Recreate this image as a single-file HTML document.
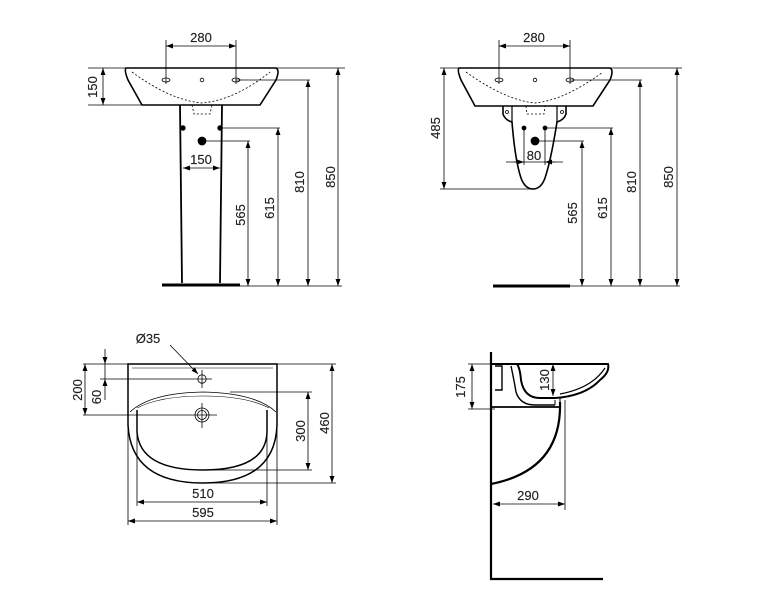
<!DOCTYPE html>
<html><head><meta charset="utf-8"><style>
html,body{margin:0;padding:0;background:#fff;}
svg{display:block;}
text{font-family:"Liberation Sans",Arial,sans-serif;font-size:13px;fill:#222;stroke:#222;stroke-width:0.15;}
</style></head><body>
<svg width="759" height="600" viewBox="0 0 759 600" xmlns="http://www.w3.org/2000/svg">
<defs>
<marker id="a" viewBox="0 0 10 10" refX="10" refY="5" markerWidth="7" markerHeight="7" orient="auto-start-reverse" markerUnits="userSpaceOnUse"><path d="M0,1.5 L10,5 L0,8.5 z" fill="#000"/></marker>
</defs>
<g stroke="#000" fill="none" stroke-width="0.8">
<!-- ===== VIEW 1 ===== -->
<path d="M126,68 L276,68 Q280,70 276,80 L260,105 L142,105 L128,80 Q124,70 126,68 Z" stroke-width="1.6"/>
<path d="M132,72 Q170,100 202,103 Q235,100 270,72" stroke-dasharray="2,2"/>
<path d="M192,105 L194,114 L210,114 L212,105" stroke-dasharray="2,2"/>
<path d="M180,105 L182,283 M222,105 L220,283" stroke-width="1.8"/>
<line x1="162" y1="285" x2="240" y2="285" stroke-width="3"/>
<circle cx="202" cy="80" r="1.8"/>
<ellipse cx="166" cy="80" rx="4" ry="2"/><ellipse cx="236" cy="80" rx="4" ry="2"/>
<circle cx="183" cy="128" r="2.3" fill="#000"/><circle cx="220" cy="128" r="2.3" fill="#000"/>
<circle cx="202" cy="141" r="4" fill="#000"/>
<line x1="166" y1="40" x2="166" y2="84"/><line x1="236" y1="40" x2="236" y2="84"/>
<line x1="166" y1="46" x2="236" y2="46" marker-start="url(#a)" marker-end="url(#a)"/>
<line x1="183" y1="168" x2="220" y2="168" marker-start="url(#a)" marker-end="url(#a)"/>
<line x1="88" y1="68" x2="345" y2="68"/><line x1="88" y1="105" x2="142" y2="105"/>
<line x1="103" y1="68" x2="103" y2="105" marker-start="url(#a)" marker-end="url(#a)"/>
<line x1="236" y1="80" x2="310" y2="80"/><line x1="220" y1="128" x2="280" y2="128"/><line x1="202" y1="141" x2="250" y2="141"/>
<line x1="240" y1="286" x2="342" y2="286"/>
<line x1="248" y1="141" x2="248" y2="286" marker-start="url(#a)" marker-end="url(#a)"/>
<line x1="278" y1="128" x2="278" y2="286" marker-start="url(#a)" marker-end="url(#a)"/>
<line x1="308" y1="80" x2="308" y2="286" marker-start="url(#a)" marker-end="url(#a)"/>
<line x1="338" y1="68" x2="338" y2="286" marker-start="url(#a)" marker-end="url(#a)"/>

<!-- ===== VIEW 2 ===== -->
<path d="M459,68 L610,68 Q614,70 610,80 L593,106 L475,106 L461,80 Q457,70 459,68 Z" stroke-width="1.6"/>
<path d="M466,72 Q505,100 535,103 Q565,100 603,72" stroke-dasharray="2,2"/>
<path d="M526,106 L527,114 L544,114 L545,106" stroke-dasharray="2,2"/>
<path d="M503,106 L503,114 Q505,120 512,122 Q515,160 521,178 Q525,189 533,189 Q541,189 545,178 Q551,160 557,122 Q564,120 566,114 L566,106" stroke-width="1.6"/>
<line x1="512" y1="106" x2="512" y2="122" stroke-width="1.2"/><line x1="557" y1="106" x2="557" y2="122" stroke-width="1.2"/>
<circle cx="507" cy="112" r="1.5"/><circle cx="562" cy="112" r="1.5"/>
<line x1="493" y1="286" x2="570" y2="286" stroke-width="3"/>
<circle cx="535" cy="80" r="1.8"/>
<ellipse cx="499" cy="80" rx="4" ry="2"/><ellipse cx="570" cy="80" rx="4" ry="2"/>
<circle cx="524" cy="128" r="2" fill="#000"/><circle cx="545" cy="128" r="2" fill="#000"/>
<circle cx="535" cy="141" r="4" fill="#000"/>
<line x1="499" y1="40" x2="499" y2="84"/><line x1="570" y1="40" x2="570" y2="84"/>
<line x1="499" y1="46" x2="570" y2="46" marker-start="url(#a)" marker-end="url(#a)"/>
<line x1="524" y1="128" x2="524" y2="165"/><line x1="545" y1="128" x2="545" y2="165"/>
<line x1="506" y1="162" x2="563" y2="162"/>
<line x1="514" y1="162" x2="524" y2="162" marker-end="url(#a)"/><line x1="555" y1="162" x2="545" y2="162" marker-end="url(#a)"/>
<line x1="440" y1="68" x2="682" y2="68"/><line x1="440" y1="189" x2="533" y2="189"/>
<line x1="444" y1="68" x2="444" y2="189" marker-start="url(#a)" marker-end="url(#a)"/>
<line x1="570" y1="80" x2="642" y2="80"/><line x1="545" y1="128" x2="613" y2="128"/><line x1="535" y1="141" x2="584" y2="141"/>
<line x1="570" y1="286" x2="680" y2="286"/>
<line x1="582" y1="141" x2="582" y2="286" marker-start="url(#a)" marker-end="url(#a)"/>
<line x1="611" y1="128" x2="611" y2="286" marker-start="url(#a)" marker-end="url(#a)"/>
<line x1="640" y1="80" x2="640" y2="286" marker-start="url(#a)" marker-end="url(#a)"/>
<line x1="677" y1="68" x2="677" y2="286" marker-start="url(#a)" marker-end="url(#a)"/>

<!-- ===== VIEW 3 ===== -->
<path d="M128,364 L277,364 L277,425 Q275,483 203,483 Q131,483 128,425 Z" stroke-width="1.5"/>
<line x1="132" y1="368" x2="273" y2="368" stroke-width="0.5"/>
<path d="M130,412 Q150,393 203,392 Q256,393 276,412"/>
<path d="M137,408 Q160,396 203,396 Q246,396 269,408" stroke-width="0.6"/>
<path d="M137,410 L137,432 Q140,470 203,470 Q266,470 267,432 L267,410" stroke-width="1.5"/>
<circle cx="202" cy="379" r="4.2"/>
<circle cx="202" cy="415" r="7"/><circle cx="202" cy="415" r="4.5"/>
<line x1="202" y1="370" x2="202" y2="388"/><line x1="202" y1="403" x2="202" y2="428"/>
<line x1="100" y1="379" x2="212" y2="379"/><line x1="83" y1="415" x2="217" y2="415"/>
<line x1="83" y1="364" x2="128" y2="364"/>
<line x1="170" y1="345" x2="198" y2="374" marker-end="url(#a)"/>
<line x1="85" y1="364" x2="85" y2="415" marker-start="url(#a)" marker-end="url(#a)"/>
<line x1="105" y1="349" x2="105" y2="364" marker-end="url(#a)"/>
<line x1="105" y1="400" x2="105" y2="379" marker-end="url(#a)"/>
<line x1="105" y1="364" x2="105" y2="379"/>
<line x1="277" y1="364" x2="336" y2="364"/><line x1="203" y1="483" x2="336" y2="483"/>
<line x1="230" y1="392" x2="312" y2="392"/><line x1="203" y1="470" x2="312" y2="470"/>
<line x1="308" y1="392" x2="308" y2="470" marker-start="url(#a)" marker-end="url(#a)"/>
<line x1="332" y1="364" x2="332" y2="483" marker-start="url(#a)" marker-end="url(#a)"/>
<line x1="137" y1="430" x2="137" y2="506"/><line x1="267" y1="430" x2="267" y2="506"/>
<line x1="128" y1="420" x2="128" y2="525"/><line x1="277" y1="420" x2="277" y2="525"/>
<line x1="137" y1="502" x2="267" y2="502" marker-start="url(#a)" marker-end="url(#a)"/>
<line x1="128" y1="521" x2="277" y2="521" marker-start="url(#a)" marker-end="url(#a)"/>

<!-- ===== VIEW 4 ===== -->
<path d="M491,352 L491,579 L603,579" stroke-width="2.2"/>
<path d="M491,364 L608,364 Q610,372 600,380 Q585,396 555,398 L540,398" stroke-width="2"/>
<path d="M605,368 Q592,388 560,394" stroke-width="1.2"/>
<path d="M517,364 Q520,368 521,380 Q524,398 540,398" stroke-width="2"/>
<path d="M511,366 Q514,380 516,392 Q520,405 535,405 L555,405" stroke-width="1.4"/>
<path d="M495,366 L502,366 L502,390 L495,390" stroke-width="1.4"/>
<line x1="491" y1="407" x2="560" y2="407" stroke-width="1.8"/>
<path d="M560,398 L560,405 M555,400 L555,405" stroke-width="1"/>
<path d="M560,402 Q562,470 491,484" stroke-width="2.2"/>
<path d="M565,400 L565,510" />
<line x1="468" y1="364" x2="495" y2="364"/><line x1="468" y1="409" x2="495" y2="409"/>
<line x1="472" y1="364" x2="472" y2="409" marker-start="url(#a)" marker-end="url(#a)"/>
<line x1="553" y1="364" x2="553" y2="396" marker-start="url(#a)" marker-end="url(#a)"/>
<line x1="493" y1="504" x2="565" y2="504" marker-start="url(#a)" marker-end="url(#a)"/>
</g>
<g>
<text x="201" y="42" text-anchor="middle">280</text>
<text x="534" y="42" text-anchor="middle">280</text>
<text x="201" y="164" text-anchor="middle">150</text>
<text x="534" y="160" text-anchor="middle">80</text>
<text transform="translate(97,87) rotate(-90)" text-anchor="middle">150</text>
<text transform="translate(245,215) rotate(-90)" text-anchor="middle">565</text>
<text transform="translate(274,208) rotate(-90)" text-anchor="middle">615</text>
<text transform="translate(304,182) rotate(-90)" text-anchor="middle">810</text>
<text transform="translate(335,177) rotate(-90)" text-anchor="middle">850</text>
<text transform="translate(440,128) rotate(-90)" text-anchor="middle">485</text>
<text transform="translate(577,213) rotate(-90)" text-anchor="middle">565</text>
<text transform="translate(607,208) rotate(-90)" text-anchor="middle">615</text>
<text transform="translate(636,182) rotate(-90)" text-anchor="middle">810</text>
<text transform="translate(673,177) rotate(-90)" text-anchor="middle">850</text>
<text x="148" y="343" text-anchor="middle">Ø35</text>
<text transform="translate(82,390) rotate(-90)" text-anchor="middle">200</text>
<text transform="translate(101,397) rotate(-90)" text-anchor="middle">60</text>
<text transform="translate(305,431) rotate(-90)" text-anchor="middle">300</text>
<text transform="translate(329,423) rotate(-90)" text-anchor="middle">460</text>
<text x="203" y="498" text-anchor="middle">510</text>
<text x="203" y="517" text-anchor="middle">595</text>
<text transform="translate(465,387) rotate(-90)" text-anchor="middle">175</text>
<text transform="translate(549,380) rotate(-90)" text-anchor="middle">130</text>
<text x="528" y="500" text-anchor="middle">290</text>
</g>
</svg>
</body></html>
